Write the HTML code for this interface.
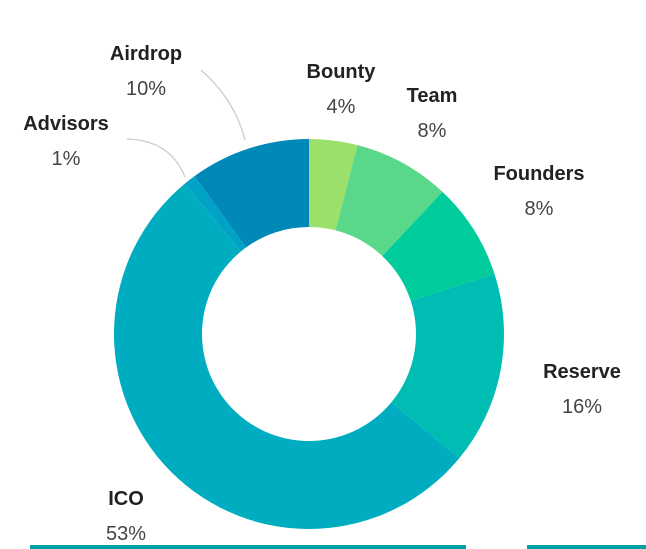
<!DOCTYPE html>
<html><head><meta charset="utf-8"><style>
html,body{margin:0;padding:0;background:#fff;width:646px;height:549px;overflow:hidden}
svg text{font-family:"Liberation Sans",sans-serif}
.n{font-weight:bold;font-size:20px;fill:#222}
.p{font-size:20px;fill:#444}
</style></head><body>
<svg id="chart" width="646" height="549" viewBox="0 0 646 549">
<g id="slices"></g>
<path d="M201,70 Q235,100 245,140" fill="none" stroke="#ccc" stroke-width="1.3"/>
<path d="M127,139 Q170,140 185,177" fill="none" stroke="#ccc" stroke-width="1.3"/>
<g id="labels"></g>
<rect x="30" y="545" width="436" height="4" fill="#00a0a8"/>
<rect x="527" y="545" width="119" height="4" fill="#00a0a8"/>
</svg>
<script>
const categories=["Bounty","Team","Founders","Reserve","ICO","Advisors","Airdrop"];
const values=[4,8,8,16,53,1,10];
const colors=["#9be06a","#5ad88a","#00cc9c","#00bdb3","#00adc0","#00a2c6","#0088b8"];
const labelX=[341,432,539,582,126,66,146];
const labelY=[78,102,180,378,505,130,60];
const NS="http://www.w3.org/2000/svg";
const cx=309,cy=334,R=195,r=107;
const total=values.reduce((a,b)=>a+b,0);
const sg=document.getElementById('slices'),lg=document.getElementById('labels');
let a0=0;
function pt(rad,a){return [cx+rad*Math.sin(a),cy-rad*Math.cos(a)];}
values.forEach((v,i)=>{
  const a1=a0+v/total*2*Math.PI;
  const large=(a1-a0)>Math.PI?1:0;
  const [x0,y0]=pt(R,a0),[x1,y1]=pt(R,a1),[x2,y2]=pt(r,a1),[x3,y3]=pt(r,a0);
  const p=document.createElementNS(NS,'path');
  p.setAttribute('d',`M${x0},${y0}A${R},${R} 0 ${large} 1 ${x1},${y1}L${x2},${y2}A${r},${r} 0 ${large} 0 ${x3},${y3}Z`);
  p.setAttribute('fill',colors[i]);
  
  
  sg.appendChild(p);
  a0=a1;
  const t=document.createElementNS(NS,'text');
  t.setAttribute('x',labelX[i]);t.setAttribute('y',labelY[i]);
  t.setAttribute('text-anchor','middle');t.setAttribute('class','n');
  t.textContent=categories[i];
  
  
  lg.appendChild(t);
  const q=document.createElementNS(NS,'text');
  q.setAttribute('x',labelX[i]);q.setAttribute('y',labelY[i]+35);
  q.setAttribute('text-anchor','middle');q.setAttribute('class','p');
  q.textContent=v+'%';
  
  
  lg.appendChild(q);
});
</script>
</body></html>
